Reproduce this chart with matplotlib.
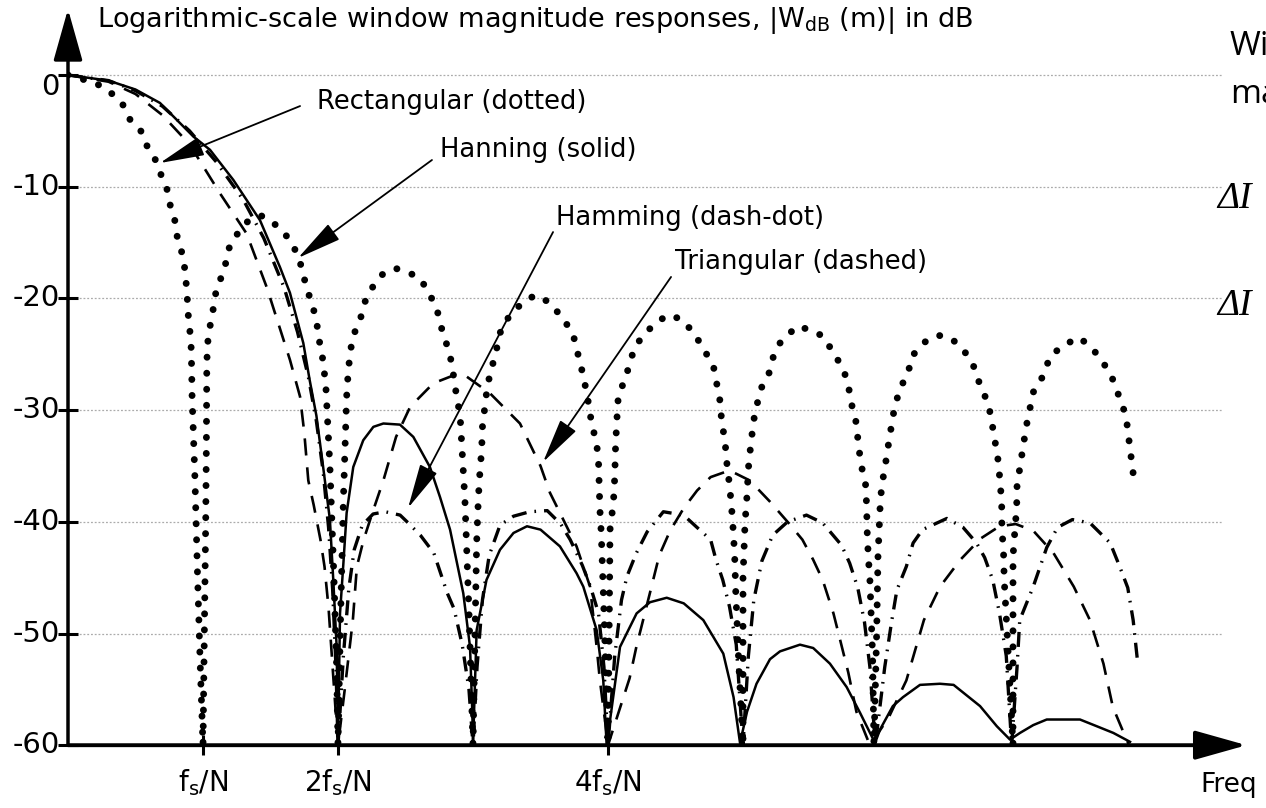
import matplotlib
matplotlib.use('Agg')
import matplotlib.pyplot as plt

plt.rcParams['font.family'] = ['DejaVu Sans']
plt.rcParams['mathtext.fontset'] = 'dejavusans'

# ---------------- data (x in units of fs/N, y in dB) ----------------
rect_k = [0, 0.2, 0.3, 0.40, 0.46, 0.546, 0.587, 0.644, 0.681, 0.731, 0.756, 0.793, 0.805, 0.835, 0.859,
          0.879, 0.891, 0.911, 0.916, 0.919, 0.94, 0.96, 0.98, 1.0,
          1.01, 1.02, 1.025, 1.027, 1.028, 1.032, 1.052, 1.081, 1.101, 1.156, 1.175, 1.2, 1.29, 1.35, 1.43,
          1.5, 1.607, 1.68, 1.72, 1.756, 1.78, 1.817, 1.842, 1.854, 1.891, 1.911, 1.94, 1.97, 1.99, 2.0,
          2.02, 2.04, 2.059, 2.064, 2.077, 2.101, 2.13, 2.175, 2.2, 2.25, 2.323, 2.422, 2.509, 2.607, 2.669,
          2.731, 2.756, 2.78, 2.817, 2.842, 2.879, 2.904, 2.94, 2.97, 3.0,
          3.015, 3.027, 3.04, 3.052, 3.064, 3.07, 3.1, 3.126, 3.163, 3.2, 3.25, 3.348, 3.459, 3.558, 3.669,
          3.743, 3.768, 3.793, 3.817, 3.85, 3.879, 3.916, 3.93, 3.935, 3.94, 3.95, 3.97, 4.0,
          4.01, 4.015, 4.04, 4.05, 4.055, 4.064, 4.077, 4.126, 4.175, 4.225, 4.311, 4.435, 4.533, 4.632,
          4.706, 4.78, 4.805, 4.83, 4.842, 4.867, 4.879, 4.9, 4.916, 4.93, 4.94, 4.945, 4.97, 5.0,
          5.0, 5.0, 5.015, 5.03, 5.04, 5.06, 5.086, 5.11, 5.14, 5.188, 5.225, 5.274, 5.398, 5.496, 5.595,
          5.681, 5.743, 5.78, 5.805, 5.842, 5.854, 5.879, 5.91, 5.916, 5.92, 5.928, 5.94, 5.96, 5.97,
          5.99, 6.0, 6.015, 6.027, 6.052, 6.077, 6.101, 6.126, 6.175, 6.225, 6.249, 6.348, 6.447, 6.546,
          6.644, 6.719, 6.756, 6.817, 6.842, 6.867, 6.891, 6.904, 6.916, 6.918, 6.93, 6.935, 6.97, 7.0,
          7.0, 7.0, 7.015, 7.027, 7.03, 7.052, 7.077, 7.101, 7.126, 7.15, 7.225, 7.274, 7.373, 7.491,
          7.59, 7.681, 7.731, 7.78, 7.817, 7.842, 7.854, 7.879, 7.904]
rect_db = [0, -0.7, -1.4, -2.5, -4.0, -5.1, -6.4, -7.5, -8.7, -10.1, -11.6, -13.1, -14.3, -15.5, -16.7,
           -19.1, -21.5, -23.9, -26.3, -28.7, -36, -45, -53, -60,
           -50, -40, -33, -28.5, -26.3, -24.2, -22.5, -20.6, -19.0, -17.6, -16.4, -15.2, -13.6, -12.9, -12.6,
           -13.0, -14.2, -15.6, -16.8, -18.5, -19.5, -20.9, -22.1, -23.3, -25.7, -28.1, -35, -45, -53, -60,
           -48, -38, -30.9, -28.8, -26.3, -24.0, -22.8, -21.5, -20.3, -19.1, -17.9, -17.3, -17.6, -18.2, -19.4,
           -20.9, -22.1, -23.3, -24.5, -25.8, -28.8, -30.4, -38, -48, -60,
           -50, -41.9, -37.8, -35.4, -33.6, -31.5, -28.5, -26.7, -25.2, -23.1, -21.9, -20.6, -19.7, -20.3, -21.8,
           -23.3, -24.5, -25.8, -26.9, -29.0, -31.2, -33.0, -34.7, -36.9, -38.9, -41.0, -48, -60,
           -48, -40.7, -38.3, -36.0, -33.6, -31.2, -28.6, -27.3, -25.2, -23.9, -22.7, -21.5, -21.8, -23.0,
           -24.5, -26.0, -27.6, -29.2, -31.0, -32.8, -34.6, -36.7, -38.8, -41.2, -43.6, -45.9, -53, -60,
           -52, -45, -40.1, -37.6, -35.2, -32.8, -30.4, -29.2, -27.9, -26.9, -25.2, -24.0, -22.5, -22.8, -23.4,
           -25.1, -26.3, -27.8, -29.5, -31.3, -33.1, -35.1, -36.8, -38.8, -40.9, -43.1, -45.2, -52, -60,
           -50, -43.1, -38.8, -36.8, -35.1, -33.1, -31.3, -29.5, -27.8, -26.6, -25.2, -23.9, -23.3, -23.6,
           -24.8, -26.3, -27.8, -29.4, -31.0, -32.8, -34.6, -36.4, -38.2, -40.6, -42.8, -45.2, -53, -60,
           -52, -43.1, -40.6, -38.8, -36.7, -35.1, -33.1, -31.3, -29.8, -28.4, -26.9, -25.2, -24.2, -23.5,
           -24.5, -26.0, -27.0, -28.6, -29.8, -31.0, -32.2, -34.6, -37.0]

hann_k = [0, 0.3, 0.5, 0.681, 0.928, 1.052, 1.225, 1.422, 1.57, 1.644, 1.743, 1.79, 1.84, 1.89, 1.94, 1.965,
          1.99, 2.0, 2.015, 2.04, 2.064, 2.113, 2.187, 2.262, 2.336, 2.459, 2.558, 2.681, 2.756, 2.83, 2.928,
          2.978, 2.995, 3.0, 3.027, 3.1, 3.2, 3.3, 3.4, 3.5, 3.644, 3.767, 3.817, 3.916, 3.965, 3.99,
          4.089, 4.212, 4.311, 4.435, 4.561, 4.706, 4.854, 4.93, 4.978, 5.03, 5.1, 5.2, 5.274, 5.422, 5.52,
          5.644, 5.768, 5.867, 5.978, 6.015, 6.11, 6.185, 6.311, 6.459, 6.56, 6.756, 6.88, 6.978, 7.052,
          7.15, 7.25, 7.373, 7.496, 7.62, 7.743, 7.867]
hann_db = [0, -0.5, -1.3, -2.5, -5.5, -6.7, -9.4, -13.0, -17.2, -19.5, -24.0, -27.3, -30.5, -35.1, -39.8, -45.2,
           -51.2, -60, -48.2, -43.7, -39.2, -35.1, -32.7, -31.5, -31.2, -31.3, -32.4, -35.1, -37.8, -40.7, -46.4,
           -51.2, -57.1, -60, -49.7, -45.2, -42.5, -41.0, -40.4, -40.7, -42.2, -44.6, -45.8, -49.7, -54.2, -60,
           -51.2, -48.2, -47.2, -46.8, -47.3, -48.8, -51.8, -55.7, -59.8, -57, -54.5, -52.3, -51.6, -51.0, -51.3,
           -52.7, -54.8, -57.1, -59.8, -58.6, -56.5, -55.7, -54.6, -54.5, -54.6, -56.5, -58.3, -59.5, -58.9,
           -58.2, -57.7, -57.7, -57.7, -58.3, -58.9, -59.7]

hamm_k = [0, 0.3, 0.5, 0.7, 0.9, 1.1, 1.3, 1.45, 1.6, 1.7, 1.78, 1.84, 1.89, 1.93, 1.96, 1.985, 2.0,
          2.04, 2.08, 2.12, 2.18, 2.26, 2.35, 2.46, 2.52, 2.61, 2.71, 2.76, 2.81, 2.86, 2.92, 2.97, 3.0,
          3.03, 3.07, 3.12, 3.2, 3.3, 3.42, 3.55, 3.65, 3.72, 3.81, 3.87, 3.93, 3.97, 4.0,
          4.05, 4.1, 4.14, 4.21, 4.29, 4.41, 4.56, 4.65, 4.76, 4.8, 4.85, 4.9, 4.95, 5.0,
          5.04, 5.08, 5.14, 5.22, 5.33, 5.47, 5.59, 5.73, 5.79, 5.85, 5.9, 5.94, 5.98,
          6.05, 6.1, 6.14, 6.21, 6.26, 6.33, 6.51, 6.63, 6.73, 6.79, 6.85, 6.9, 6.95, 6.99,
          7.03, 7.05, 7.15, 7.25, 7.33, 7.44, 7.57, 7.72, 7.79, 7.85, 7.89, 7.92]
hamm_db = [0, -0.5, -1.4, -2.8, -5.0, -7.8, -11.2, -14.6, -19.0, -23.0, -27.0, -31.0, -35.5, -40.5, -46, -53, -60,
           -52, -46, -42.5, -40.3, -39.3, -39.1, -39.4, -40.1, -41.2, -42.8, -44.6, -46.4, -47.8, -51, -55, -60,
           -53, -47, -43, -40.3, -39.5, -39.1, -39.0, -40.2, -41.6, -43.9, -45.8, -48.2, -53, -60,
           -52, -47, -44.9, -42.8, -40.9, -39.1, -39.4, -40.4, -41.6, -43.4, -45.2, -47.6, -51, -60,
           -52, -47, -43.5, -41.2, -40.0, -39.4, -40.1, -42.1, -43.7, -45.9, -49, -53, -60,
           -53, -49, -46.1, -44.0, -41.9, -40.7, -39.7, -40.5, -41.9, -43.2, -45.2, -48.2, -52, -60,
           -53, -48.8, -45.8, -42.3, -40.5, -39.8, -40.1, -41.9, -44.0, -45.9, -48.8, -52.2]

tri_k = [0, 0.3, 0.5, 0.7, 0.9, 1.126, 1.323, 1.472, 1.644, 1.719, 1.75, 1.78, 1.82, 1.87, 1.9, 1.93, 1.96, 2.0,
         2.05, 2.11, 2.14, 2.19, 2.26, 2.336, 2.43, 2.535, 2.706, 2.854, 2.953, 3.126, 3.2, 3.348, 3.5, 3.57,
         3.767, 3.867, 3.916, 3.94, 3.98, 4.0,
         4.08, 4.16, 4.21, 4.31, 4.38, 4.46, 4.56, 4.66, 4.76, 4.9, 5.05, 5.2, 5.33, 5.44, 5.52, 5.59, 5.67,
         5.72, 5.78, 5.84, 5.94,
         6.08, 6.21, 6.34, 6.46, 6.61, 6.76, 6.9, 7.02, 7.15, 7.3, 7.45, 7.57, 7.67, 7.74, 7.82, 7.86]
tri_db = [0, -0.6, -1.7, -3.6, -6.2, -10.6, -14.2, -19.0, -25.5, -28.8, -32, -36.3, -38.5, -41.6, -44, -47.7, -53, -60,
          -55, -48.8, -44.0, -41.6, -39.0, -36.3, -32.4, -29.7, -27.6, -26.9, -27.0, -28.5, -29.4, -31.2, -35.0, -37.4,
          -42.2, -45.8, -51.2, -54.2, -58, -60,
          -57, -54, -51.2, -46.4, -43, -40.8, -38.8, -37.2, -36.0, -35.4, -36.3, -38.2, -40.0, -41.6, -43.4, -45.2,
          -48.2, -50.6, -53.5, -57, -60,
          -57.5, -54.2, -48.8, -45.8, -43.4, -41.5, -40.4, -40.2, -40.8, -42.8, -45.8, -48.8, -52.7, -56.6, -58.9, -60]

ytick_vals = [0, -10, -20, -30, -40, -50, -60]
ytick_labels = ['0', '-10', '-20', '-30', '-40', '-50', '-60']
xtick_vals = [1, 2, 4]
xtick_labels = [r'$\mathregular{f_s/N}$', r'$\mathregular{2f_s/N}$', r'$\mathregular{4f_s/N}$']

title = r'Logarithmic-scale window magnitude responses, |$\mathregular{W_{dB}}$ (m)| in dB'
labels = ['Rectangular (dotted)', 'Hanning (solid)', 'Hamming (dash-dot)', 'Triangular (dashed)']
label_pos = [(1.844, -2.42), (2.756, -6.71), (3.615, -12.8), (4.496, -16.74)]
arrow_tails = [(1.719, -2.78), (2.696, -7.61), (3.593, -14.06), (4.467, -18.08)]
arrow_tips = [(0.681, -7.88), (1.704, -16.38), (2.519, -38.76), (3.519, -34.65)]

# ---------------- figure ----------------
W, H = 1266, 808
fig = plt.figure(figsize=(W / 100, H / 100), dpi=100)
X0, Y0, PXK, PXDB = 68, 75, 135, 11.17
XMAX, YTOP = 8.73, 5.9
ax = fig.add_axes([X0 / W, (H - (Y0 + 60 * PXDB)) / H, XMAX * PXK / W, (60 + YTOP) * PXDB / H])
ax.set_xlim(0, XMAX)
ax.set_ylim(-60, YTOP)
for s in ax.spines.values():
    s.set_visible(False)

# faint grid
for v in ytick_vals[:-1]:
    ax.plot([0.0, 8.55], [v, v], color='#ababab', lw=0.9, ls=(0, (1.5, 1.5)), zorder=0)

# curves
ax.plot(rect_k, rect_db, color='k', lw=5.0, ls=(0, (0.01, 2.3)), dash_capstyle='round', zorder=3)
ax.plot(hann_k, hann_db, color='k', lw=1.8, zorder=3)
ax.plot(hamm_k, hamm_db, color='k', lw=2.4, ls=(0, (4.5, 2.4, 0.5, 2.4)), zorder=3)
ax.plot(tri_k, tri_db, color='k', lw=1.9, ls=(0, (6.5, 4.5)), zorder=3)

# axes with arrows
ax.annotate('', xy=(0, YTOP), xytext=(0, -60),
            arrowprops=dict(arrowstyle='-|>,head_length=1.6,head_width=0.45', lw=2.5, color='k',
                            shrinkA=0, shrinkB=0, mutation_scale=20), annotation_clip=False)
ax.annotate('', xy=(XMAX, -60), xytext=(0, -60),
            arrowprops=dict(arrowstyle='-|>,head_length=1.6,head_width=0.45', lw=2.8, color='k',
                            shrinkA=0, shrinkB=0, mutation_scale=20), annotation_clip=False)

# ticks
ax.set_xticks(xtick_vals)
ax.set_xticklabels(xtick_labels)
ax.set_yticks(ytick_vals)
ax.set_yticklabels([])
ax.tick_params(axis='both', direction='inout', length=14, width=2.2, color='k', labelsize=20)
ax.tick_params(axis='x', pad=9)
for v, lab in zip(ytick_vals, ytick_labels):
    ax.text(-0.06, v - (1.05 if v == 0 else 0), lab, ha='right', va='center', fontsize=21)

# annotations
for lab, (tx, ty) in zip(labels, label_pos):
    ax.text(tx, ty, lab, ha='left', va='center', fontsize=18.6)
for (x0, y0), (x1, y1) in zip(arrow_tails, arrow_tips):
    ax.annotate('', xy=(x1, y1), xytext=(x0, y0),
                arrowprops=dict(arrowstyle='-|>,head_length=1.4,head_width=0.3', lw=1.3, color='k',
                                shrinkA=0, shrinkB=0, mutation_scale=20))

fig.text(97 / W, 1 - 20 / H, title, ha='left', va='center', fontsize=19.5)
fig.text(1200 / W, 1 - 792 / H, 'Freq', ha='left', va='baseline', fontsize=19)

# clipped slide text on the right
fig.text(1230 / W, 1 - 55 / H, 'Wi', ha='left', va='baseline', fontsize=24, family='Open Sans')
fig.text(1230 / W, 1 - 103 / H, 'ma', ha='left', va='baseline', fontsize=24, family='Open Sans')
fig.text(1217 / W, 1 - 208 / H, 'ΔI', ha='left', va='baseline', fontsize=27, family='Liberation Serif',
         style='italic')
fig.text(1217 / W, 1 - 315 / H, 'ΔI', ha='left', va='baseline', fontsize=27, family='Liberation Serif',
         style='italic')

fig.savefig('out.png', dpi=100, facecolor='white')
